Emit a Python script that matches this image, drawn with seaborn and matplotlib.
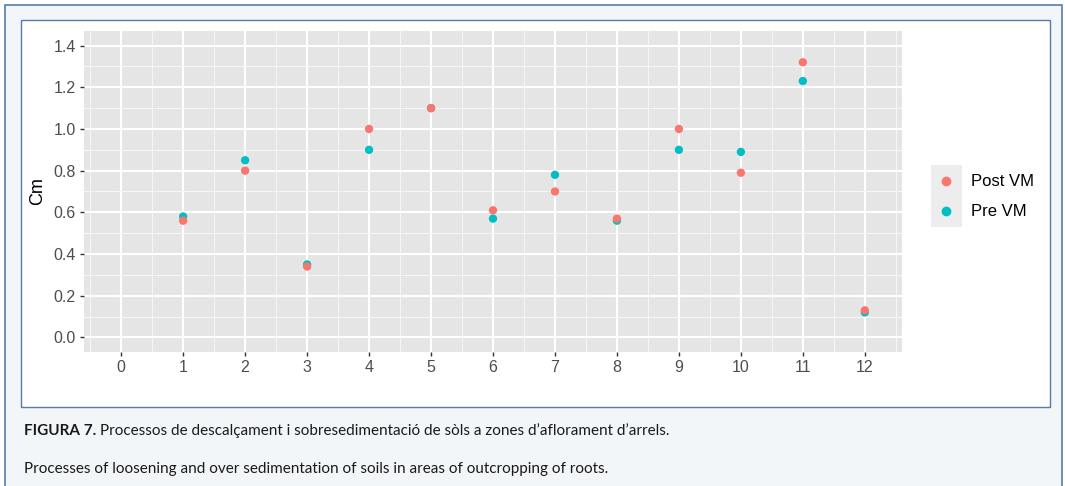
import matplotlib
matplotlib.use("Agg")
import matplotlib.pyplot as plt
import matplotlib.patches as mpatches
from matplotlib.ticker import MultipleLocator
import seaborn as sns
import pandas as pd

# data
sites = [1, 2, 3, 4, 5, 6, 7, 8, 9, 10, 11, 12]
pre_vm = [0.58, 0.85, 0.35, 0.90, 1.10, 0.57, 0.78, 0.56, 0.90, 0.89, 1.23, 0.12]
post_vm = [0.56, 0.80, 0.34, 1.00, 1.10, 0.61, 0.70, 0.57, 1.00, 0.79, 1.32, 0.13]
groups = ["Post VM", "Pre VM"]
colors = ["#F8766D", "#00BFC4"]
x_ticks = list(range(0, 13))
y_ticks = [0.0, 0.2, 0.4, 0.6, 0.8, 1.0, 1.2, 1.4]

# pre first so post is drawn on top (like the original)
df = pd.concat([
    pd.DataFrame({"x": sites, "Cm": pre_vm, "grup": "Pre VM"}),
    pd.DataFrame({"x": sites, "Cm": post_vm, "grup": "Post VM"}),
], ignore_index=True)

plt.rcParams["font.family"] = ["Liberation Sans", "DejaVu Sans"]

W, H = 1065, 486
fig = plt.figure(figsize=(W / 100, H / 100), dpi=100)

# outer frame + inner white box
fig.patches.append(mpatches.Rectangle((5 / W, -0.05), 1057 / W, (H - 5) / H + 0.05,
                                      transform=fig.transFigure, facecolor="#F3F6F8",
                                      edgecolor="#5A7BA6", linewidth=1.2, zorder=0))
fig.patches.append(mpatches.Rectangle((21 / W, (H - 407) / H), 1029 / W, 387 / H,
                                      transform=fig.transFigure, facecolor="white",
                                      edgecolor="#5A7BA6", linewidth=1.0, zorder=1))

ax = fig.add_axes([84 / W, (H - 352) / H, 818 / W, 321 / H])
ax.set_facecolor("#E5E5E5")
ax.set_zorder(2)

sns.scatterplot(data=df, x="x", y="Cm", hue="grup", hue_order=groups,
                palette=colors, s=36, linewidth=0, legend=False, ax=ax, zorder=3)

ax.set_xlim(-0.6, 12.6)
ax.set_ylim(-0.07, 1.47)
ax.set_xticks(x_ticks)
ax.set_yticks(y_ticks)
ax.set_yticklabels([f"{v:.1f}" for v in y_ticks])
ax.xaxis.set_minor_locator(MultipleLocator(0.5))
ax.yaxis.set_minor_locator(MultipleLocator(0.1))
ax.grid(which="major", color="white", linewidth=1.5, zorder=1)
ax.grid(which="minor", color="#F7F7F7", linewidth=0.7, zorder=1)
ax.set_axisbelow(True)
for s in ax.spines.values():
    s.set_visible(False)
ax.tick_params(which="major", length=3, width=1, color="#333333",
               labelsize=11.5, labelcolor="#4D4D4D", pad=3)
ax.tick_params(which="minor", length=0)
ax.set_xlabel("")
ax.set_ylabel("Cm", fontsize=13, color="black", labelpad=5)

# legend drawn by hand, ggplot style
lx, ly = 931 / W, (H - 227) / H
fig.patches.append(mpatches.Rectangle((lx, ly), 31 / W, 62 / H, transform=fig.transFigure,
                                      facecolor="#EDEDED", edgecolor="none", zorder=3))
for i, (g, c) in enumerate(zip(groups, colors)):
    yy = (H - 181 - 30 * i) / H
    fig.lines.append(plt.Line2D([946 / W], [yy], transform=fig.transFigure, marker="o",
                                markersize=6, color=c, linestyle="none", zorder=4))
    fig.text(971 / W, yy, g, fontsize=12, color="black", va="center", ha="left", zorder=4)

# caption
cap_font = ["Lato", "DejaVu Sans"]
cap_size = 11
bold = fig.text(24 / W, (H - 431) / H, "FIGURA 7.", fontsize=cap_size, fontweight="bold",
                family=cap_font, va="center", ha="left", color="#1A1A1A")
fig.canvas.draw()
bb = bold.get_window_extent()
fig.text(bb.x1 / W + 4 / W, (H - 431) / H,
         "Processos de descalçament i sobresedimentació de sòls a zones d\u2019aflorament d\u2019arrels.",
         fontsize=cap_size, family=cap_font, va="center", ha="left", color="#1A1A1A")
fig.text(24 / W, (H - 469) / H,
         "Processes of loosening and over sedimentation of soils in areas of outcropping of roots.",
         fontsize=cap_size, family=cap_font, va="center", ha="left", color="#1A1A1A")

fig.savefig("out.png", dpi=100)
